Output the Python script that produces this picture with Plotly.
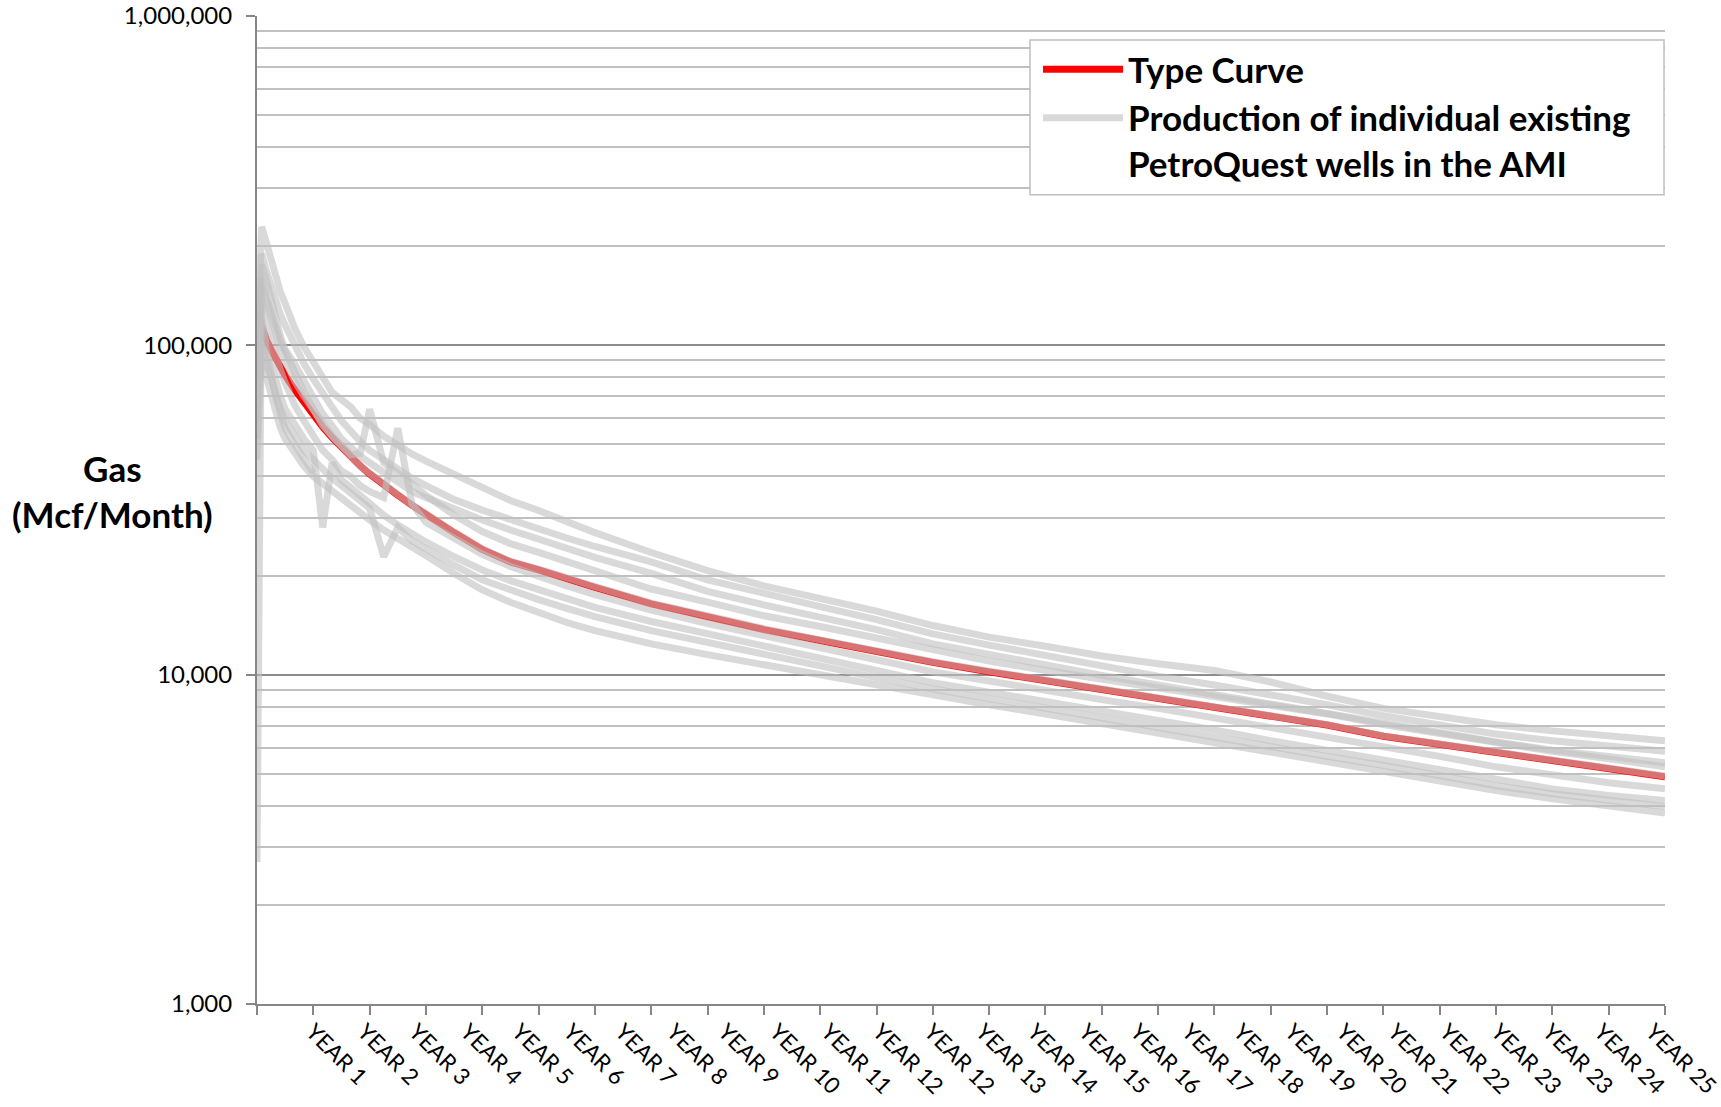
import plotly.graph_objects as go

# ---------------- data ----------------
MONTHS = [0, 1, 2, 3, 4, 5, 6, 8, 10, 12, 14, 16, 18, 20, 22, 24, 27, 30, 33, 36,
          42, 48, 54, 60, 66, 72, 84, 96, 108, 120, 132, 144, 156, 168, 180, 192,
          204, 216, 228, 240, 252, 264, 276, 288, 300]

TYPE_CURVE = [125000, 113000, 104000, 97000, 91000, 85500, 81000, 73500, 67000, 61000,
              56500, 52500, 49000, 45800, 43000, 40700, 37500, 35100, 32700, 30600,
              27000, 24000, 22000, 20800, 19500, 18400, 16400, 14900, 13700, 12700,
              11700, 10900, 10200, 9600, 9000, 8450, 7970, 7500, 7030, 6500,
              6150, 5800, 5450, 5150, 4900]

WELL_A = [98000, 229000, 205000, 181000, 162000, 145000, 134000, 113000, 99000, 88000,
          80000, 72000, 68000, 65000, 60000, 57500, 53000, 49500, 46800, 44500,
          40700, 37000, 33800, 31500, 29000, 27000, 23500, 20700, 18600, 17100,
          15600, 14100, 13000, 12200, 11400, 10800, 10300, 9500, 8600, 7900,
          7450, 7050, 6750, 6500, 6300]

WELL_B = [75000, 190000, 168000, 150000, 136000, 124000, 115000, 100000, 88000, 79000,
          71000, 65000, 59000, 54500, 51000, 48000, 45000, 42000, 39500, 37500,
          34000, 31600, 29500, 27800, 26000, 24500, 22000, 19400, 17600, 16100,
          14700, 13300, 12300, 11400, 10600, 9900, 9300, 8700, 8100, 7500,
          7000, 6600, 6300, 6050, 5850]

WELL_C = [2700, 176000, 158000, 138000, 120000, 106000, 97000, 88000, 78000, 70000,
          62000, 57000, 52000, 49000, 46000, 44000, 41000, 38500, 36000, 34500,
          31800, 29500, 27500, 25800, 24200, 22700, 20300, 17900, 16300, 15000,
          13700, 12400, 11500, 10700, 9950, 9300, 8700, 8150, 7600, 7100,
          6650, 6250, 5900, 5650, 5400]

WELL_D = [88000, 160000, 140000, 126000, 112000, 103000, 96000, 82000, 72000, 64000,
          57000, 53000, 49000, 46000, 43000, 40800, 37600, 35200, 32800, 30700,
          27100, 24100, 22100, 20900, 19600, 18500, 16500, 15000, 13800, 12750,
          11750, 10950, 10250, 9650, 9050, 8500, 8000, 7520, 7050, 6520,
          6170, 5820, 5470, 5170, 4920]

WELL_E = [60000, 150000, 135000, 120000, 108000, 98000, 90000, 78000, 70000, 63000,
          58000, 53000, 49500, 46500, 47000, 64000, 44000, 41000, 38000, 35000,
          30500, 27200, 25000, 23500, 22000, 20600, 18200, 16600, 15100, 14000,
          12900, 11900, 11000, 10300, 9700, 9150, 8650, 8100, 7600, 7050,
          6600, 6200, 5850, 5550, 5250]

WELL_F = [82000, 135000, 118000, 104000, 93000, 84000, 77000, 66000, 59000, 53000,
          48000, 45000, 41500, 40000, 37500, 36000, 34500, 56000, 33000, 29000,
          25800, 23200, 21300, 19800, 18600, 17500, 15700, 14300, 13100, 12100,
          11100, 10200, 9600, 9000, 8400, 7900, 7400, 6900, 6450, 6050,
          5650, 5250, 4950, 4700, 4500]

WELL_G = [52000, 115000, 100000, 88000, 78000, 70000, 64000, 57000, 52000, 48000,
          28000, 44000, 39000, 37000, 35000, 33000, 30500, 28500, 26800, 25300,
          22800, 20800, 19300, 18100, 17000, 16000, 14500, 13300, 12200, 11200,
          10300, 9450, 8850, 8300, 7750, 7250, 6800, 6300, 5900, 5500,
          5150, 4800, 4500, 4300, 4150]

WELL_H = [45000, 100000, 88000, 78000, 70000, 64000, 59000, 53000, 48000, 45000,
          42000, 39500, 37500, 35500, 33500, 32000, 22800, 28000, 25500, 24000,
          21500, 19400, 18000, 16900, 15900, 15000, 13600, 12500, 11500, 10600,
          9800, 9050, 8450, 7900, 7400, 6950, 6500, 6050, 5650, 5300,
          4950, 4600, 4350, 4150, 3980]

WELL_I = [85000, 92000, 80000, 70000, 62000, 56000, 52000, 47000, 43000, 40000,
          38000, 36000, 34000, 32400, 31000, 29500, 27500, 26000, 24500, 23000,
          20300, 18100, 16600, 15400, 14400, 13600, 12400, 11500, 10700, 9950,
          9300, 8650, 8100, 7600, 7100, 6650, 6250, 5850, 5450, 5100,
          4750, 4450, 4200, 4000, 3800]

SHORT_MONTHS = [0, 1, 2, 3, 4, 5, 6, 8, 10, 12]
WELL_SHORT = [95000, 120000, 96000, 80000, 70000, 62000, 56000, 50000, 45000, 41000]

WELLS = [(MONTHS, WELL_A), (MONTHS, WELL_B), (MONTHS, WELL_C), (MONTHS, WELL_D),
         (MONTHS, WELL_E), (MONTHS, WELL_F), (MONTHS, WELL_G), (MONTHS, WELL_H),
         (MONTHS, WELL_I), (SHORT_MONTHS, WELL_SHORT)]

YEAR_LABELS = ["YEAR 1", "YEAR 2", "YEAR 3", "YEAR 4", "YEAR 5", "YEAR 6", "YEAR 7",
               "YEAR 8", "YEAR 9", "YEAR 10", "YEAR 11", "YEAR 12", "YEAR 12",
               "YEAR 13", "YEAR 14", "YEAR 15", "YEAR 16", "YEAR 17", "YEAR 18",
               "YEAR 19", "YEAR 20", "YEAR 21", "YEAR 22", "YEAR 23", "YEAR 23",
               "YEAR 24", "YEAR 25"]

Y_TICKS = [1000, 10000, 100000, 1000000]
Y_TICK_TEXT = ["1,000", "10,000", "100,000", "1,000,000"]

# ---------------- figure ----------------
FONT = "Lato, 'Open Sans', sans-serif"
GRAY = "rgba(191,191,191,0.6)"

fig = go.Figure()

fig.add_trace(go.Scatter(
    x=MONTHS, y=TYPE_CURVE, mode="lines", name="Type Curve",
    line=dict(color="#ff0000", width=7), showlegend=True))

for i, (mx, vals) in enumerate(WELLS):
    fig.add_trace(go.Scatter(
        x=mx, y=vals, mode="lines",
        name="Production of individual existing<br>PetroQuest wells in the AMI",
        legendgroup="wells", showlegend=(i == 0),
        line=dict(color=GRAY, width=7)))

label_pos = [11.8 + 10.98 * k for k in range(len(YEAR_LABELS))]
minor_vals = [m * 10 ** e for e in range(3, 6) for m in range(2, 10)]

fig.update_layout(
    width=1721, height=1107,
    margin=dict(l=257, r=56, t=15.5, b=102.7, pad=0, autoexpand=False),
    paper_bgcolor="white", plot_bgcolor="white",
    font=dict(family=FONT, size=24, color="#000000"),
    xaxis=dict(
        range=[0, 300], tickmode="array", tickvals=list(range(0, 301, 12)),
        showticklabels=False, ticks="outside", ticklen=9, tickwidth=2,
        tickcolor="#868686", showline=True, linecolor="#868686", linewidth=2,
        showgrid=False, zeroline=False, automargin=False),
    xaxis2=dict(
        overlaying="x", matches="x", side="bottom", anchor="y",
        tickmode="array", tickvals=label_pos, ticktext=YEAR_LABELS,
        tickangle=45, ticks="", showline=False, showgrid=False, zeroline=False,
        automargin=False, ticklabelstandoff=9, ticklabeloverflow="allow",
        tickfont=dict(family=FONT, size=22.5, color="#000000")),
    yaxis=dict(
        type="log", range=[3, 6], tickmode="array", tickvals=Y_TICKS,
        ticktext=Y_TICK_TEXT, ticks="outside", ticklen=9, tickwidth=2,
        tickcolor="#868686", showline=True, linecolor="#868686", linewidth=2,
        showgrid=True, gridcolor="#8c8c8c", gridwidth=2, automargin=False,
        ticklabelstandoff=9, ticklabeloverflow="allow",
        tickfont=dict(family=FONT, size=24, color="#000000"),
        minor=dict(tickvals=minor_vals, showgrid=True, gridcolor="#c0c0c0",
                   gridwidth=1.6, ticks=""),
        zeroline=False),
    legend=dict(
        x=0.5547, y=0.9757, xanchor="left", yanchor="top",
        bgcolor="rgba(0,0,0,0)", borderwidth=0,
        font=dict(family=FONT, size=35, color="#000000", weight="bold"),
        itemwidth=80, valign="top", tracegroupgap=0),
    shapes=[dict(
        type="rect", xref="paper", yref="paper",
        x0=0.549, x1=0.9993, y0=0.8192, y1=0.9757,
        fillcolor="white", line=dict(color="#bfbfbf", width=1.5), layer="above")],
    annotations=[dict(
        text="<b>Gas<br>(Mcf/Month)</b>", xref="paper", yref="paper",
        x=-0.1023, y=0.519, xanchor="center", yanchor="middle", showarrow=False,
        align="center", font=dict(family=FONT, size=35, color="#000000"))],
)

# attach an invisible trace to xaxis2 so its labels are drawn
fig.add_trace(go.Scatter(x=[0, 300], y=[1000, 1000], xaxis="x2", mode="lines",
                         line=dict(width=0), hoverinfo="skip", showlegend=False))

fig.write_html(
    "out.html",
    config={"displayModeBar": False},
    post_script="document.body.style.margin='0';document.body.style.overflow='hidden';")
